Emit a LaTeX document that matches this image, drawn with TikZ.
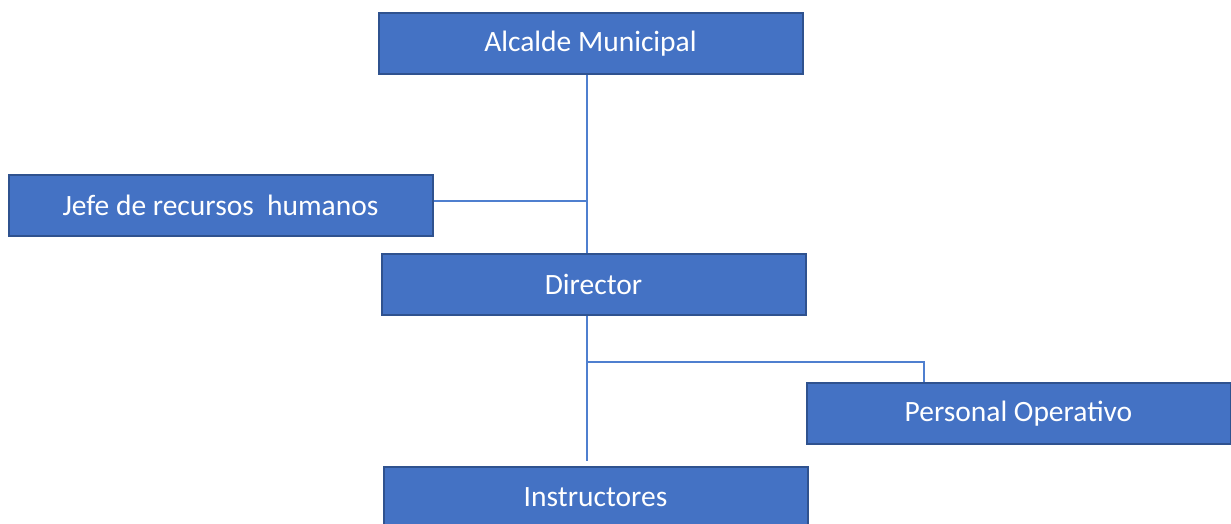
\documentclass[tikz,border=0pt]{standalone}
\usepackage{fontspec}
\setmainfont{Carlito}
\definecolor{boxfill}{HTML}{4472C4}
\definecolor{boxline}{HTML}{2F528F}
\definecolor{conn}{HTML}{4F7FCF}
\begin{document}
\begin{tikzpicture}[x=1pt,y=-1pt,
  orgbox/.style={draw=boxline, line width=2pt, fill=boxfill, text=white,
    rectangle, inner sep=0pt, minimum width=424pt, minimum height=61pt,
    font=\fontsize{29.5}{34}\selectfont},
  link/.style={draw=conn, line width=1.5pt}]
\useasboundingbox (0,0) rectangle (1231,523);
\node[orgbox] (alc) at (590.5,43.5) {Alcalde Municipal};
\node[orgbox] (jefe) at (220.5,205) {Jefe de recursos\ \ humanos};
\node[orgbox] (dir) at (593.5,284.5) {Director};
\node[orgbox] (pers) at (1018.5,413.5) {Personal Operativo};
\node[orgbox] (inst) at (595.5,497) {Instructores};
\coordinate (trunk) at (587,0);
\coordinate (upj) at (587,201);
\coordinate (split) at (587,362);
\coordinate (pdrop) at (924,362);
\draw[link] (alc.south -| trunk) -- (dir.north -| trunk);
\draw[link] (jefe.east |- upj) -- (upj);
\draw[link, shorten >=5pt] (dir.south -| trunk) -- (inst.north -| trunk);
\draw[link] (split) -- (pdrop) -- (pers.north -| pdrop);
\end{tikzpicture}
\end{document}
